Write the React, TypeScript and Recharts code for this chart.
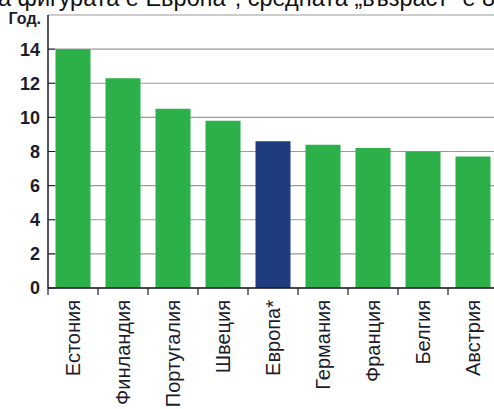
import { BarChart, Bar, XAxis, YAxis, CartesianGrid, Cell } from 'recharts';

const categories = ['Естония', 'Финландия', 'Португалия', 'Швеция', 'Европа*', 'Германия', 'Франция', 'Белгия', 'Австрия'];
const values = [14.0, 12.3, 10.5, 9.8, 8.6, 8.4, 8.2, 8.0, 7.7];
const yTicks = [0, 2, 4, 6, 8, 10, 12, 14, 16];
const highlight = 'Европа*';
const titleText = 'а фигурата е Европа*, средната „възраст“ е 8,6 години';
const unitLabel = 'Год.';

const data = categories.map((name, i) => ({ name, value: values[i] }));

const FONT = 'Arial, "Liberation Sans", sans-serif';
const GREEN = '#2bb04a';
const NAVY = '#1f3c7f';
const INK = '#1c1c2c';

// ticks on the y axis point inwards, the top one carries the unit
function YTick(props: any) {
  const { x, y, payload } = props;
  if (payload.value === yTicks[yTicks.length - 1]) {
    return (
      <text x={x - 7} y={y + 9} textAnchor="end" fontFamily={FONT} fontSize={16} fontWeight="bold" fill={INK}>
        {unitLabel}
      </text>
    );
  }
  return (
    <g>
      <line x1={x} x2={x + 7} y1={y} y2={y} stroke={INK} strokeWidth={1} />
      <text x={x - 8} y={y} dy="0.36em" textAnchor="end" fontFamily={FONT} fontSize={18} fontWeight="bold" fill={INK}>
        {payload.value}
      </text>
    </g>
  );
}

// tick marks sit between the categories, labels are turned upright
function XTick(props: any) {
  const { x, y, payload, index } = props;
  const half = 25;
  const last = index === categories.length - 1;
  return (
    <g>
      <line x1={x - half} x2={x - half} y1={y} y2={y + 7} stroke={INK} strokeWidth={1.2} />
      {last && <line x1={x + half} x2={x + half} y1={y} y2={y + 7} stroke={INK} strokeWidth={1.2} />}
      <text
        transform={`translate(${x + 7}, ${y + 12}) rotate(-90)`}
        textAnchor="end"
        fontFamily={FONT}
        fontSize={20}
        fill={INK}
      >
        {payload.value}
      </text>
    </g>
  );
}

export default function App() {
  return (
    <div style={{ position: 'absolute', left: 0, top: 0, width: 494, height: 409, overflow: 'hidden', background: '#fff' }}>
      <div
        style={{
          position: 'absolute',
          left: -2,
          top: -13,
          fontFamily: FONT,
          fontSize: 23.5,
          lineHeight: '23px',
          whiteSpace: 'nowrap',
          color: '#111',
        }}
      >
        {titleText}
      </div>
      <BarChart width={500} height={409} data={data} margin={{ top: 15, right: 2, bottom: 0, left: 0 }} barCategoryGap="15%">
        <CartesianGrid vertical={false} stroke="#9a9a9a" strokeWidth={1.2} />
        <Bar dataKey="value" isAnimationActive={false}>
          {data.map((d) => (
            <Cell key={d.name} fill={d.name === highlight ? NAVY : GREEN} />
          ))}
        </Bar>
        <XAxis
          dataKey="name"
          height={121}
          interval={0}
          tickLine={false}
          tickSize={0}
          tickMargin={0}
          axisLine={{ stroke: INK, strokeWidth: 1.5 }}
          tick={<XTick />}
        />
        <YAxis
          width={48}
          domain={[0, 16]}
          ticks={yTicks}
          interval={0}
          tickLine={false}
          tickSize={0}
          tickMargin={0}
          axisLine={{ stroke: INK, strokeWidth: 1.5 }}
          tick={<YTick />}
        />
      </BarChart>
    </div>
  );
}
